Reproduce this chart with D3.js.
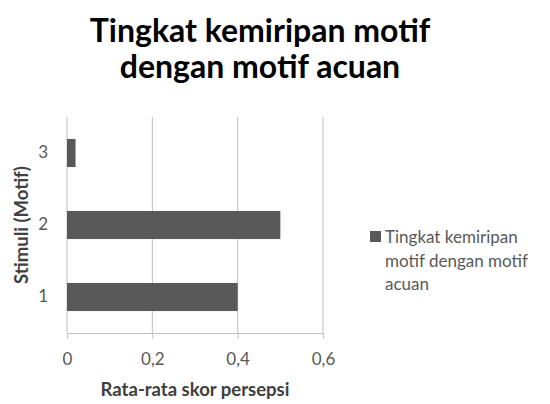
<!DOCTYPE html>
<html>
<head>
<meta charset="utf-8">
<script src="https://cdn.jsdelivr.net/npm/d3@7"></script>
<style>
  body { margin: 0; background: #fff; }
  text { font-family: Lato, "Open Sans", sans-serif; }
</style>
</head>
<body>
<script>
// data
var categories = ["3", "2", "1"]
var values = [0.02, 0.5, 0.4]
var xTicks = [0, 0.2, 0.4, 0.6]
var titleLines = ["Tingkat kemiripan motif", "dengan motif acuan"]
var seriesName = ["Tingkat kemiripan", "motif dengan motif", "acuan"]

var width = 550, height = 404
var plot = {left: 67, right: 323, top: 117, bottom: 333}

var svg = d3.select("body").append("svg")
  .attr("width", width)
  .attr("height", height)

svg.append("g")
  .selectAll("text")
  .data(titleLines)
  .enter()
  .append("text")
  .attr("x", 260)
  .attr("y", function(d, i) { return 42 + i * 36 })
  .attr("text-anchor", "middle")
  .attr("font-size", 32)
  .attr("font-weight", "bold")
  .attr("fill", "#000")
  .text(function(d) { return d })

var scaleX = d3.scaleLinear().domain([0, 0.6]).range([plot.left, plot.right])
var scaleY = d3.scaleBand().domain(categories).range([plot.top, plot.bottom]).paddingInner(0.61).paddingOuter(0.305)

// gridlines
svg.append("g")
  .selectAll("line")
  .data(xTicks)
  .enter()
  .append("line")
  .attr("x1", function(d) { return scaleX(d) })
  .attr("x2", function(d) { return scaleX(d) })
  .attr("y1", plot.top)
  .attr("y2", plot.bottom)
  .attr("stroke", "#bfbfbf")
  .attr("stroke-width", 1)

// bars
svg.append("g")
  .selectAll("rect")
  .data(values)
  .enter()
  .append("rect")
  .attr("x", scaleX(0))
  .attr("y", function(d, i) { return scaleY(categories[i]) })
  .attr("width", function(d) { return scaleX(d) - scaleX(0) })
  .attr("height", scaleY.bandwidth())
  .attr("fill", "#595959")

// x axis
var xAxis = d3.axisBottom(scaleX)
  .tickValues(xTicks)
  .tickSize(6)
  .tickPadding(14)
  .tickFormat(function(d) { return d === 0 ? "0" : d3.format(".1f")(d).replace(".", ",") })

var gx = svg.append("g")
  .attr("transform", "translate(0," + plot.bottom + ")")
  .call(xAxis)
gx.select(".domain").attr("stroke", "#bfbfbf").attr("d", "M" + plot.left + ",0.5H" + plot.right)
gx.selectAll(".tick line").attr("stroke", "#bfbfbf")
gx.selectAll(".tick text").attr("font-size", 17).attr("fill", "#595959").attr("font-family", "Lato, sans-serif")

// y axis labels
var yAxis = d3.axisLeft(scaleY).tickSize(0).tickPadding(19)
var gy = svg.append("g")
  .attr("transform", "translate(" + plot.left + ",0)")
  .call(yAxis)
gy.select(".domain").remove()
gy.selectAll(".tick text").attr("font-size", 17).attr("fill", "#595959").attr("font-family", "Lato, sans-serif")

// axis titles
svg.append("text")
  .attr("x", 195)
  .attr("y", 396)
  .attr("text-anchor", "middle")
  .attr("font-size", 18.5)
  .attr("font-weight", "bold")
  .attr("fill", "#404040")
  .text("Rata-rata skor persepsi")

svg.append("text")
  .attr("transform", "translate(28,225) rotate(-90)")
  .attr("text-anchor", "middle")
  .attr("font-size", 18.5)
  .attr("font-weight", "bold")
  .attr("fill", "#404040")
  .text("Stimuli (Motif)")

// legend
var legend = svg.append("g").attr("transform", "translate(370,231)")
legend.append("rect")
  .attr("width", 11)
  .attr("height", 11)
  .attr("fill", "#595959")
legend.selectAll("text")
  .data(seriesName)
  .enter()
  .append("text")
  .attr("x", 15)
  .attr("y", function(d, i) { return 12 + i * 23.5 })
  .attr("font-size", 17)
  .attr("fill", "#595959")
  .text(function(d) { return d })
</script>
</body>
</html>
